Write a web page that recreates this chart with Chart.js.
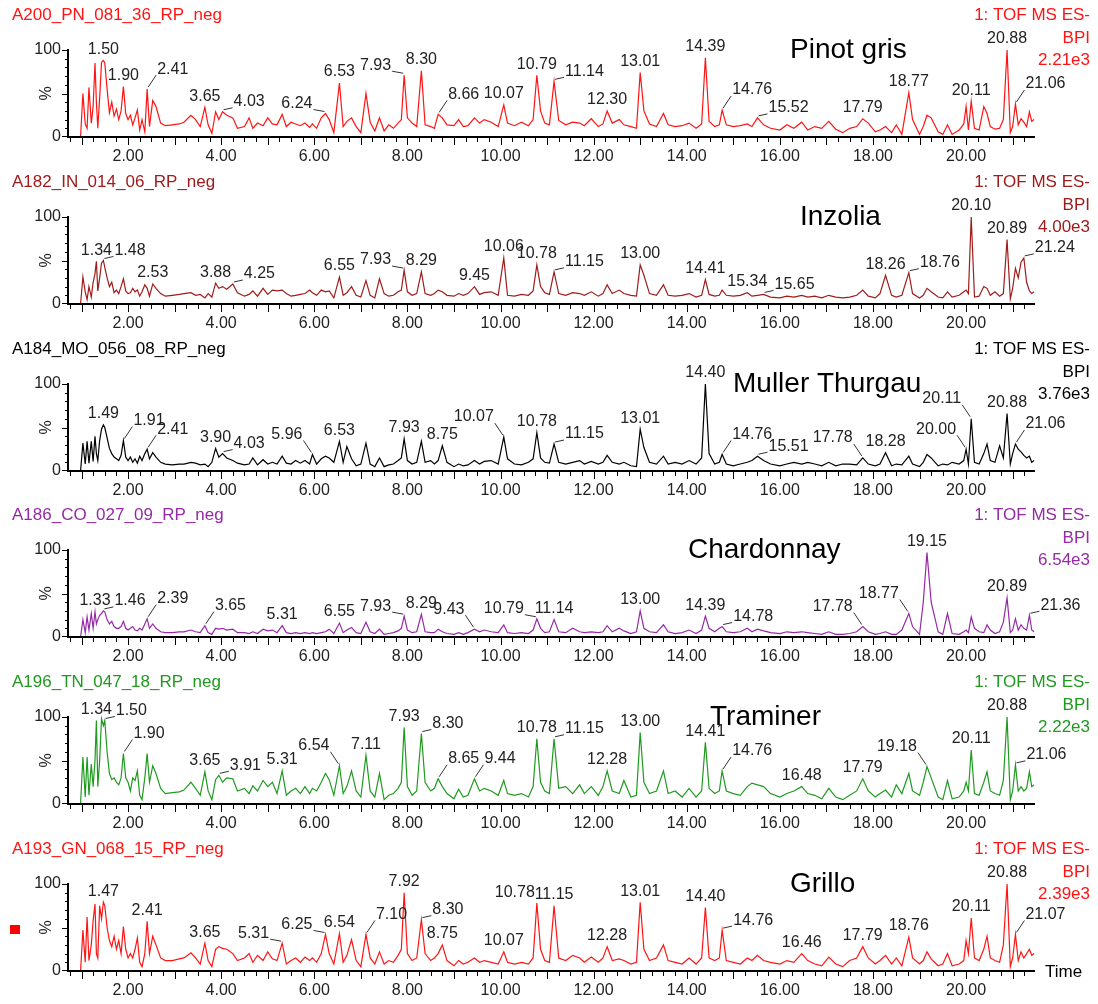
<!DOCTYPE html>
<html>
<head>
<meta charset="utf-8">
<title>BPI chromatograms</title>
<script src="https://cdn.jsdelivr.net/npm/chart.js@4.4.0/dist/chart.umd.min.js"></script>
<style>
  html, body { margin: 0; padding: 0; background: #fff; }
  #wrap { position: relative; width: 1098px; height: 1004px; overflow: hidden; }
  #wrap canvas { position: absolute; left: 0; }
</style>
</head>
<body>
<div id="wrap"></div>
<script>
// retention time grid (min), shared by all traces
const retentionTimes = [
  0.71, 0.98, 1.03, 1.08, 1.12, 1.16, 1.21, 1.25, 1.29, 1.32,
  1.35, 1.39, 1.43, 1.47, 1.50, 1.55, 1.60, 1.65, 1.70, 1.75,
  1.80, 1.85, 1.90, 1.95, 2.00, 2.05, 2.10, 2.15, 2.20, 2.25,
  2.30, 2.36, 2.41, 2.46, 2.53, 2.60, 2.70, 2.80, 2.95, 3.10,
  3.20, 3.35, 3.45, 3.55, 3.65, 3.72, 3.80, 3.88, 3.95, 4.03,
  4.12, 4.25, 4.35, 4.50, 4.60, 4.68, 4.78, 4.90, 5.00, 5.10,
  5.20, 5.31, 5.40, 5.50, 5.60, 5.70, 5.80, 5.90, 5.96, 6.05,
  6.15, 6.24, 6.32, 6.42, 6.54, 6.62, 6.70, 6.80, 6.90, 7.00,
  7.11, 7.20, 7.30, 7.40, 7.50, 7.60, 7.70, 7.80, 7.87, 7.93,
  8.00, 8.10, 8.20, 8.30, 8.38, 8.50, 8.58, 8.66, 8.75, 8.85,
  9.00, 9.10, 9.20, 9.30, 9.44, 9.55, 9.65, 9.80, 9.95, 10.07,
  10.15, 10.30, 10.45, 10.60, 10.70, 10.78, 10.86, 10.95, 11.05, 11.15,
  11.25, 11.40, 11.55, 11.70, 11.80, 11.95, 12.10, 12.20, 12.29, 12.40,
  12.55, 12.65, 12.80, 12.92, 13.00, 13.08, 13.20, 13.35, 13.50, 13.60,
  13.75, 13.90, 14.05, 14.20, 14.32, 14.40, 14.48, 14.60, 14.70, 14.76,
  14.85, 15.00, 15.15, 15.30, 15.40, 15.52, 15.65, 15.80, 16.00, 16.15,
  16.30, 16.47, 16.60, 16.75, 16.90, 17.05, 17.20, 17.35, 17.50, 17.65,
  17.78, 17.90, 18.05, 18.15, 18.27, 18.40, 18.50, 18.62, 18.77, 18.85,
  19.00, 19.08, 19.16, 19.25, 19.40, 19.50, 19.60, 19.70, 19.85, 19.95,
  20.00, 20.05, 20.11, 20.18, 20.28, 20.38, 20.45, 20.52, 20.62, 20.72,
  20.80, 20.88, 20.95, 21.00, 21.06, 21.12, 21.18, 21.24, 21.30, 21.36,
  21.41, 21.46
];

// relative intensity (%) per trace, one value per retention time
const pinotGris = [
  0, 0, 50, 15, 10, 57, 16, 35, 85, 40,
  10, 45, 86, 88, 85, 55, 28, 40, 24, 32,
  20, 30, 58, 27, 20, 25, 14, 22, 31, 8,
  20, 6, 55, 12, 42, 35, 16, 13, 14, 15,
  17, 25, 20, 12, 34, 14, 4, 29, 20, 29,
  25, 22, 10, 12, 22, 10, 16, 13, 22, 15,
  14, 26, 12, 17, 15, 13, 16, 11, 15, 10,
  22, 27, 20, 5, 62, 12, 18, 22, 12, 5,
  50, 17, 7, 22, 7, 14, 10, 16, 20, 71,
  22, 16, 12, 76, 14, 12, 10, 26, 22, 14,
  13, 20, 12, 13, 22, 16, 20, 17, 12, 37,
  16, 13, 17, 13, 20, 71, 30, 16, 14, 64,
  19, 14, 17, 16, 13, 21, 12, 15, 30, 16,
  20, 14, 12, 10, 74, 30, 15, 12, 27, 14,
  12, 13, 16, 10, 15, 91, 18, 12, 14, 31,
  14, 12, 13, 15, 12, 22, 14, 10, 8, 14,
  10, 17, 8, 12, 10, 18, 9, 5, 10, 12,
  21, 16, 6, 8, 12, 5, 14, 3, 51, 20,
  3, 12, 25, 22, 6, 3, 14, 3, 8, 15,
  35, 8, 41, 10, 8, 35, 27, 12, 9, 10,
  20, 100, 5, 12, 38, 14, 21, 17, 12, 29,
  18, 20
];
const inzolia = [
  0, 0, 31, 14, 5, 20, 8, 25, 35, 49,
  15, 30, 47, 50, 42, 30, 20, 25, 13, 16,
  12, 20, 29, 15, 12, 13, 18, 14, 16, 9,
  14, 22, 18, 9, 23, 18, 12, 9, 10, 11,
  12, 13, 10, 11, 7, 12, 8, 24, 18, 20,
  17, 23, 13, 9, 11, 15, 9, 18, 11, 16,
  15, 16, 12, 9, 10, 11, 12, 16, 13, 10,
  16, 14, 15, 7, 31, 10, 13, 20, 10, 8,
  27, 10, 7, 29, 12, 9, 10, 14, 16, 39,
  14, 10, 12, 37, 12, 10, 12, 16, 14, 10,
  9, 12, 10, 12, 20, 11, 13, 14, 10, 53,
  10, 9, 11, 10, 15, 45, 20, 13, 11, 37,
  12, 10, 13, 12, 10, 14, 9, 12, 22, 12,
  16, 12, 10, 9, 45, 33, 12, 10, 22, 10,
  9, 10, 12, 8, 10, 28, 11, 9, 10, 16,
  10, 9, 10, 13, 9, 10, 11, 8, 7, 9,
  8, 10, 8, 9, 7, 10, 8, 7, 8, 10,
  16, 9, 7, 12, 33, 10, 8, 10, 36, 12,
  7, 10, 18, 14, 8, 7, 14, 8, 10, 14,
  16, 12, 100, 8, 9, 20, 18, 10, 14, 9,
  12, 74, 6, 18, 41, 30, 48, 53, 25, 15,
  12, 14
];
const mullerThurgau = [
  0, 0, 32, 8, 34, 9, 34, 11, 40, 20,
  12, 35, 48, 53, 50, 38, 26, 20, 16, 14,
  12, 18, 35, 16, 12, 16, 10, 14, 9, 17,
  12, 20, 25, 14, 21, 16, 10, 8, 7, 8,
  8, 10, 9, 7, 8, 5, 10, 26, 16, 20,
  15, 12, 9, 7, 8, 15, 7, 13, 8, 10,
  8, 17, 9, 8, 12, 9, 12, 8, 19, 8,
  14, 17, 15, 10, 34, 10, 28, 14, 6, 8,
  32, 8, 5, 15, 5, 7, 8, 12, 15, 37,
  12, 8, 10, 34, 10, 12, 8, 12, 29, 10,
  5, 8, 6, 7, 12, 8, 11, 12, 8, 39,
  14, 8, 7, 10, 14, 44, 15, 10, 9, 31,
  10, 8, 10, 12, 8, 11, 8, 10, 18, 10,
  8, 10, 6, 5, 48, 27, 10, 8, 17, 8,
  10, 8, 12, 8, 15, 100, 20, 8, 10, 19,
  8, 6, 8, 10, 12, 17, 12, 8, 6, 8,
  10, 8, 10, 8, 6, 10, 6, 8, 8, 7,
  15, 8, 6, 8, 21, 6, 8, 7, 17, 8,
  5, 10, 19, 15, 6, 8, 7, 10, 8, 12,
  25, 8, 60, 10, 8, 20, 31, 12, 10, 29,
  15, 66, 8, 20, 31, 25, 22, 18, 15, 17,
  10, 12
];
const chardonnay = [
  0, 0, 20, 5, 23, 8, 27, 10, 29, 15,
  20, 25, 27, 30, 29, 20, 15, 18, 12, 10,
  10, 12, 18, 10, 8, 10, 12, 8, 7, 10,
  8, 15, 21, 10, 15, 10, 6, 5, 5, 6,
  6, 8, 6, 5, 13, 5, 3, 10, 9, 10,
  8, 9, 5, 5, 4, 6, 4, 9, 7, 8,
  5, 13, 5, 4, 5, 4, 5, 4, 5, 4,
  5, 6, 9, 4, 16, 5, 8, 11, 5, 4,
  17, 6, 4, 9, 3, 4, 5, 7, 10, 24,
  8, 5, 6, 26, 6, 5, 5, 9, 6, 4,
  3, 5, 3, 5, 9, 6, 8, 6, 5, 14,
  5, 4, 5, 4, 8, 21, 10, 5, 6, 20,
  6, 5, 10, 6, 5, 6, 5, 6, 13, 6,
  10, 7, 4, 6, 30, 10, 6, 5, 14, 6,
  4, 5, 8, 4, 8, 24, 10, 6, 10, 12,
  6, 5, 6, 10, 6, 9, 7, 5, 4, 6,
  5, 6, 5, 4, 3, 6, 3, 3, 4, 6,
  12, 6, 3, 4, 6, 3, 3, 8, 27, 12,
  3, 40, 97, 40, 6, 3, 27, 4, 3, 6,
  8, 5, 23, 10, 6, 5, 14, 8, 4, 6,
  17, 45, 5, 8, 21, 8, 14, 10, 8, 25,
  8, 6
];
const traminer = [
  0, 0, 54, 8, 54, 10, 46, 20, 50, 96,
  20, 50, 98, 90, 96, 60, 35, 28, 30, 25,
  22, 30, 58, 30, 25, 15, 30, 27, 38, 10,
  5, 30, 58, 25, 44, 35, 18, 12, 13, 14,
  16, 25, 18, 10, 37, 15, 5, 28, 33, 25,
  30, 29, 15, 18, 12, 21, 15, 27, 20, 25,
  12, 38, 10, 15, 18, 12, 20, 12, 18, 15,
  25, 35, 28, 10, 44, 12, 20, 38, 15, 8,
  56, 15, 8, 35, 5, 10, 12, 18, 25, 88,
  20, 10, 15, 81, 25, 15, 18, 29, 20, 12,
  6, 17, 8, 10, 29, 15, 18, 15, 10, 27,
  12, 10, 12, 8, 20, 75, 25, 15, 12, 75,
  18, 20, 12, 22, 12, 20, 10, 20, 38, 15,
  12, 27, 8, 10, 82, 25, 12, 15, 38, 12,
  15, 8, 18, 8, 15, 71, 18, 12, 15, 38,
  15, 12, 10, 20, 24, 22, 20, 12, 8, 12,
  15, 20, 12, 10, 6, 18, 8, 5, 10, 15,
  29, 15, 8, 12, 16, 8, 22, 12, 35, 15,
  10, 25, 43, 30, 8, 5, 27, 6, 8, 15,
  25, 15, 62, 12, 10, 25, 37, 15, 12, 10,
  27, 100, 5, 15, 45, 15, 20, 15, 18, 37,
  20, 22
];
const grillo = [
  0, 0, 47, 10, 62, 12, 30, 58, 77, 20,
  15, 75, 60, 79, 75, 50, 35, 28, 40, 25,
  35, 20, 51, 25, 15, 20, 15, 25, 38, 10,
  5, 20, 57, 20, 40, 30, 15, 12, 12, 14,
  15, 21, 15, 8, 32, 12, 5, 25, 28, 26,
  25, 20, 12, 15, 20, 10, 18, 12, 22, 14,
  12, 32, 8, 12, 15, 10, 16, 12, 15, 10,
  20, 42, 20, 8, 43, 10, 18, 36, 12, 5,
  42, 15, 8, 22, 8, 12, 10, 18, 25, 90,
  20, 12, 15, 59, 20, 12, 15, 20, 30, 12,
  6, 12, 8, 10, 15, 10, 12, 10, 8, 22,
  10, 8, 10, 8, 15, 78, 25, 12, 10, 75,
  15, 12, 18, 15, 10, 16, 10, 15, 28, 12,
  14, 12, 8, 10, 79, 25, 12, 15, 30, 12,
  10, 8, 15, 8, 15, 73, 15, 12, 15, 47,
  12, 10, 8, 15, 12, 18, 12, 10, 8, 12,
  10, 20, 12, 8, 6, 16, 8, 5, 12, 15,
  28, 15, 8, 12, 18, 8, 15, 6, 39, 15,
  8, 12, 22, 14, 6, 8, 20, 6, 8, 12,
  35, 20, 61, 15, 12, 25, 40, 15, 12, 10,
  30, 100, 5, 15, 42, 12, 22, 15, 20, 25,
  18, 20
];

// annotated peak times; a trailing letter marks a label drawn with a leader line,
// '<' a label nudged left without one
const pinotGrisPeaks = ['1.50', '1.90', '2.41r', '3.65', '4.03R', '6.24L', '6.53', '7.93L', '8.30', '8.66r',
  '10.07', '10.79', '11.14R', '12.30', '13.01', '14.39', '14.76r', '15.52R', '17.79', '18.77', '20.11', '20.88', '21.06r'];
const inzoliaPeaks = ['1.34', '1.48R', '2.53', '3.88', '4.25R', '6.55', '7.93L', '8.29', '9.45', '10.06', '10.78',
  '11.15R', '13.00', '14.41', '15.34', '15.65R', '18.26', '18.76R', '20.10', '20.89', '21.24R'];
const mullerPeaks = ['1.49', '1.91r', '2.41r', '3.90', '4.03R', '5.96l', '6.53', '7.93', '8.75', '10.07l', '10.78',
  '11.15R', '13.01', '14.40', '14.76r', '15.51R', '17.78l', '18.28', '20.00l', '20.11l', '20.88', '21.06r'];
const chardonnayPeaks = ['1.33', '1.46R', '2.39r', '3.65r', '5.31', '6.55', '7.93L', '8.29', '9.43l', '10.79L', '11.14',
  '13.00', '14.39', '14.78R', '17.78l', '18.77l', '19.15', '20.89', '21.36R'];
const traminerPeaks = ['1.34', '1.50R', '1.90r', '3.65', '3.91R', '5.31', '6.54l', '7.11', '7.93', '8.30R', '8.65r',
  '9.44r', '10.78', '11.15R', '12.28', '13.00', '14.41', '14.76r', '16.48', '17.79', '19.18l', '20.11', '20.88', '21.06R'];
const grilloPeaks = ['1.47', '2.41', '3.65', '5.31L', '6.25L', '6.54', '7.10r', '7.92', '8.30R', '8.75', '10.07',
  '10.78<', '11.15', '12.28', '13.01', '14.40', '14.76R', '16.46', '17.79', '18.76', '20.11', '20.88', '21.07r'];

const xTickLabels = ['2.00', '4.00', '6.00', '8.00', '10.00', '12.00', '14.00', '16.00', '18.00', '20.00'];
const sampleNames = ['A200_PN_081_36_RP_neg', 'A182_IN_014_06_RP_neg', 'A184_MO_056_08_RP_neg',
  'A186_CO_027_09_RP_neg', 'A196_TN_047_18_RP_neg', 'A193_GN_068_15_RP_neg'];
const varietyNames = ['Pinot gris', 'Inzolia', 'Muller Thurgau', 'Chardonnay', 'Traminer', 'Grillo'];
const bpiScales = ['2.21e3', '4.00e3', '3.76e3', '6.54e3', '2.22e3', '2.39e3'];

const traces = [pinotGris, inzolia, mullerThurgau, chardonnay, traminer, grillo];
const peakLists = [pinotGrisPeaks, inzoliaPeaks, mullerPeaks, chardonnayPeaks, traminerPeaks, grilloPeaks];
const traceColors = ['#ff1414', '#a01c1c', '#000000', '#962aa6', '#1f9a1f', '#ff1414'];
const varietyLeft = [790, 800, 733, 688, 710, 790];

const FONT = '"Liberation Sans", Arial, sans-serif';
const PANEL_H = 166.8;
// text offset (px) from the apex for leader-line labels
const leaderShift = { r: [9, -20], R: [10, -10], l: [-9, -20], L: [-12, -10] };

function apexIndex(values, t) {
  let bi = -1;
  retentionTimes.forEach((rt, i) => {
    if (Math.abs(rt - t) <= 0.046 && (bi < 0 || values[i] > values[bi])) bi = i;
  });
  return bi;
}

// axis lines and tick marks, placed through the chart's own scales
function drawFrame(chart) {
  const { ctx, chartArea: a, scales: { x, y } } = chart;
  ctx.save();
  ctx.fillStyle = '#000';
  ctx.fillRect(a.left - 1, a.top - 1, 2, a.bottom - a.top + 2);
  ctx.fillRect(a.left - 1, a.bottom - 1, a.right - a.left + 1, 2);
  for (let v = 0; v <= 100; v += 10) {
    const py = Math.round(y.getPixelForValue(v));
    const len = v % 50 === 0 ? 6 : 3;
    ctx.fillRect(a.left - len, py - (v === 0 ? 1 : 0), len, 1);
  }
  for (let k = Math.ceil(x.min * 4); k / 4 <= x.max; k++) {
    const px = Math.round(x.getPixelForValue(k / 4));
    const len = k % 4 === 0 ? 7 : 4;
    ctx.fillRect(px, a.bottom + 1, 1, len);
  }
  ctx.restore();
}

function decorPlugin(i) {
  return {
    id: 'chromDecor' + i,
    afterDraw(chart) {
      drawFrame(chart);
      const { ctx, chartArea: a, scales: { x, y } } = chart;
      const values = traces[i];
      ctx.save();
      ctx.fillStyle = '#222';
      ctx.font = '16px ' + FONT;
      ctx.textBaseline = 'middle';
      ctx.textAlign = 'center';
      xTickLabels.forEach(lab => ctx.fillText(lab, x.getPixelForValue(parseFloat(lab)), a.bottom + 20));
      ctx.textAlign = 'right';
      ctx.fillText('100', a.left - 7, y.getPixelForValue(100));
      ctx.fillText('0', a.left - 7, y.getPixelForValue(0));
      ctx.save();
      ctx.translate(a.left - 21, y.getPixelForValue(50));
      ctx.rotate(-Math.PI / 2);
      ctx.textAlign = 'center';
      ctx.fillText('%', 0, 0);
      ctx.restore();

      // peak annotations
      ctx.strokeStyle = '#333';
      ctx.lineWidth = 1;
      peakLists[i].forEach(spec => {
        const m = spec.match(/^([\d.]+)([rRlL<]?)$/);
        const text = m[1];
        const idx = apexIndex(values, parseFloat(text));
        if (idx < 0) return;
        const ax = x.getPixelForValue(retentionTimes[idx]);
        const ay = y.getPixelForValue(values[idx]);
        if (!m[2] || m[2] === '<') {
          ctx.textAlign = 'center';
          ctx.fillText(text, ax - (m[2] ? 22 : 0), ay - 11);
          return;
        }
        const [dx, dy] = leaderShift[m[2]];
        const ex = ax + dx, ey = ay + dy + 6;
        ctx.beginPath();
        ctx.moveTo(ax + Math.sign(dx), ay - 2);
        ctx.lineTo(ex, ey);
        ctx.stroke();
        ctx.textAlign = dx > 0 ? 'left' : 'right';
        ctx.fillText(text, ex + Math.sign(dx), ay + dy);
      });

      // headers
      ctx.font = '17px ' + FONT;
      ctx.fillStyle = traceColors[i];
      ctx.textAlign = 'left';
      ctx.fillText(sampleNames[i], 12, 15);
      ctx.textAlign = 'right';
      ctx.fillText('1: TOF MS ES-', 1090, 15);
      ctx.fillText('BPI', 1090, 38);
      ctx.fillText(bpiScales[i], 1090, 60);

      ctx.fillStyle = '#000';
      ctx.font = '28px ' + FONT;
      ctx.textAlign = 'left';
      ctx.fillText(varietyNames[i], varietyLeft[i], 50);

      if (i === traces.length - 1) {
        ctx.font = '17px ' + FONT;
        ctx.fillText('Time', 1045, a.bottom + 1);
        ctx.fillStyle = '#ff0000';
        ctx.fillRect(10, 91, 10, 9);
      }
      ctx.restore();
    }
  };
}

const wrap = document.getElementById('wrap');
traces.forEach((values, i) => {
  const top = Math.round(i * PANEL_H);
  const h = i === traces.length - 1 ? 1004 - top : 167;
  const canvas = document.createElement('canvas');
  canvas.width = 1098;
  canvas.height = h;
  canvas.style.top = top + 'px';
  canvas.style.width = '1098px';
  canvas.style.height = h + 'px';
  wrap.appendChild(canvas);

  new Chart(canvas.getContext('2d'), {
    type: 'line',
    data: {
      datasets: [{
        data: retentionTimes.map((t, k) => ({ x: t, y: values[k] })),
        borderColor: traceColors[i],
        borderWidth: 1.2,
        pointRadius: 0,
        tension: 0,
        fill: false,
        clip: false
      }]
    },
    options: {
      responsive: false,
      animation: false,
      devicePixelRatio: 1,
      parsing: false,
      layout: { padding: { left: 68, right: 1098 - 1035, top: 50, bottom: h - 137 } },
      plugins: { legend: { display: false }, tooltip: { enabled: false } },
      scales: {
        x: { type: 'linear', min: 0.71, max: 21.48, display: false },
        y: { min: 0, max: 100, display: false }
      }
    },
    plugins: [decorPlugin(i)]
  });
});
</script>
</body>
</html>
